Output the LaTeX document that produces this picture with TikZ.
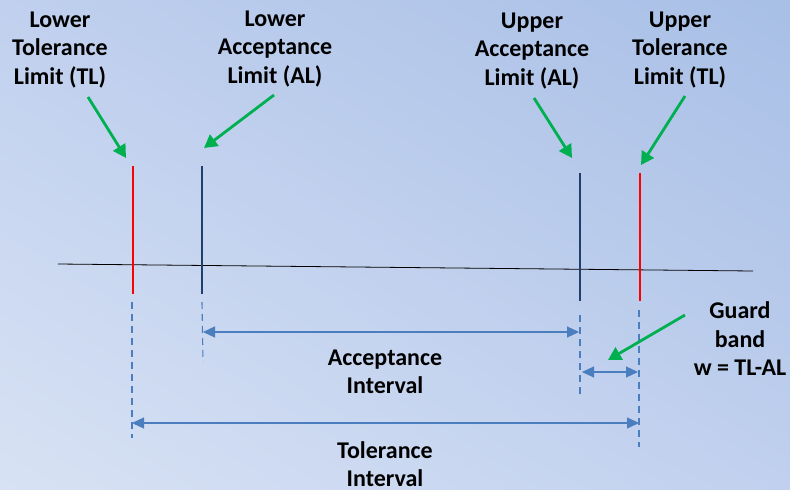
\documentclass[tikz,border=0pt]{standalone}
\usepackage{fontspec}
\setmainfont{Carlito}
\usetikzlibrary{arrows.meta,shadings}
\definecolor{bgdark}{HTML}{A8BFE6}
\definecolor{bglight}{HTML}{D8E2F4}
\definecolor{bgmid}{HTML}{C0D0EE}
\definecolor{pointer}{HTML}{00B050}
\definecolor{dim}{HTML}{4A7EBE}
\definecolor{limitred}{HTML}{FF0000}
\definecolor{limitblue}{HTML}{1F3F6E}
\tikzset{
  lbl/.style={font=\fontsize{24}{28.5}\selectfont\bfseries, align=center, inner sep=0pt, text=black},
  greenarrow/.style={draw=pointer, line width=2.8pt, -{Triangle[length=13pt,width=14pt]}},
  tollimit/.style={draw=limitred, line width=2.8pt},
  acclimit/.style={draw=limitblue, line width=2.8pt},
  extension/.style={draw=dim, line width=1.1pt, dash pattern=on 7pt off 5pt},
  dimarrow/.style={draw=dim, line width=1.1pt, {Triangle[length=12pt,width=11pt]}-{Triangle[length=12pt,width=11pt]}},
}
\begin{document}
\begin{tikzpicture}[x=1pt,y=-1pt]
  % background
  \shade[lower left=bglight, upper right=bgdark, upper left=bgmid, lower right=bgmid]
    (0,0) rectangle (790,490);
  \useasboundingbox (0,0) rectangle (790,490);

  % axis
  \coordinate (axL) at (58,264);
  \coordinate (axR) at (753,271);
  \draw[black, line width=0.8pt] (axL) -- (axR);

  % limit markers
  \coordinate (ltlT) at (133,166); \coordinate (ltlB) at (133,294);
  \coordinate (lalT) at (202,166); \coordinate (lalB) at (202,294);
  \coordinate (ualT) at (580,173); \coordinate (ualB) at (580,301);
  \coordinate (utlT) at (640,173); \coordinate (utlB) at (640,301);
  \draw[tollimit] (ltlT) -- (ltlB);
  \draw[acclimit] (lalT) -- (lalB);
  \draw[acclimit] (ualT) -- (ualB);
  \draw[tollimit] (utlT) -- (utlB);

  % extension lines
  \coordinate (e1a) at (132,302); \coordinate (e1b) at (132,438);
  \coordinate (e2a) at (202,302); \coordinate (e2b) at (203,362);
  \coordinate (e3a) at (580,315); \coordinate (e3b) at (580,398);
  \coordinate (e4a) at (639,310); \coordinate (e4b) at (639,447);
  \draw[extension] (e1a) -- (e1b);
  \draw[extension] (e2a) -- (e2b);
  \draw[extension] (e3a) -- (e3b);
  \draw[extension] (e4a) -- (e4b);

  % dimension arrows
  \coordinate (accL) at (203,332); \coordinate (accR) at (579,332);
  \coordinate (tolL) at (132,423); \coordinate (tolR) at (639,423);
  \coordinate (gbL) at (582,372); \coordinate (gbR) at (638,372);
  \draw[dimarrow] (accL) -- (accR);
  \draw[dimarrow] (tolL) -- (tolR);
  \draw[dimarrow] (gbL) -- (gbR);

  % labels
  \node[lbl] (ltl) at (60,50) {Lower\\Tolerance\\Limit (TL)};
  \node[lbl] (lal) at (275,49) {Lower\\Acceptance\\Limit (AL)};
  \node[lbl] (ual) at (532,51) {Upper\\Acceptance\\Limit (AL)};
  \node[lbl] (utl) at (680,50) {Upper\\Tolerance\\Limit (TL)};
  \node[lbl] (acc) at (385,372) {Acceptance\\Interval};
  \node[lbl] (tol) at (385,464) {Tolerance\\Interval};
  \node[lbl] (gb) at (740,339) {Guard\\band\\w = TL-AL};

  % pointers
  \coordinate (q1) at (88,97);   \coordinate (p1) at (126,158);
  \coordinate (q2) at (274,95);  \coordinate (p2) at (204,148);
  \coordinate (q3) at (534,98);  \coordinate (p3) at (572,158);
  \coordinate (q4) at (685,96);  \coordinate (p4) at (641,165);
  \coordinate (q5) at (685,315); \coordinate (p5) at (608,360);
  \draw[greenarrow] (q1) -- (p1);
  \draw[greenarrow] (q2) -- (p2);
  \draw[greenarrow] (q3) -- (p3);
  \draw[greenarrow] (q4) -- (p4);
  \draw[greenarrow] (q5) -- (p5);
\end{tikzpicture}
\end{document}
